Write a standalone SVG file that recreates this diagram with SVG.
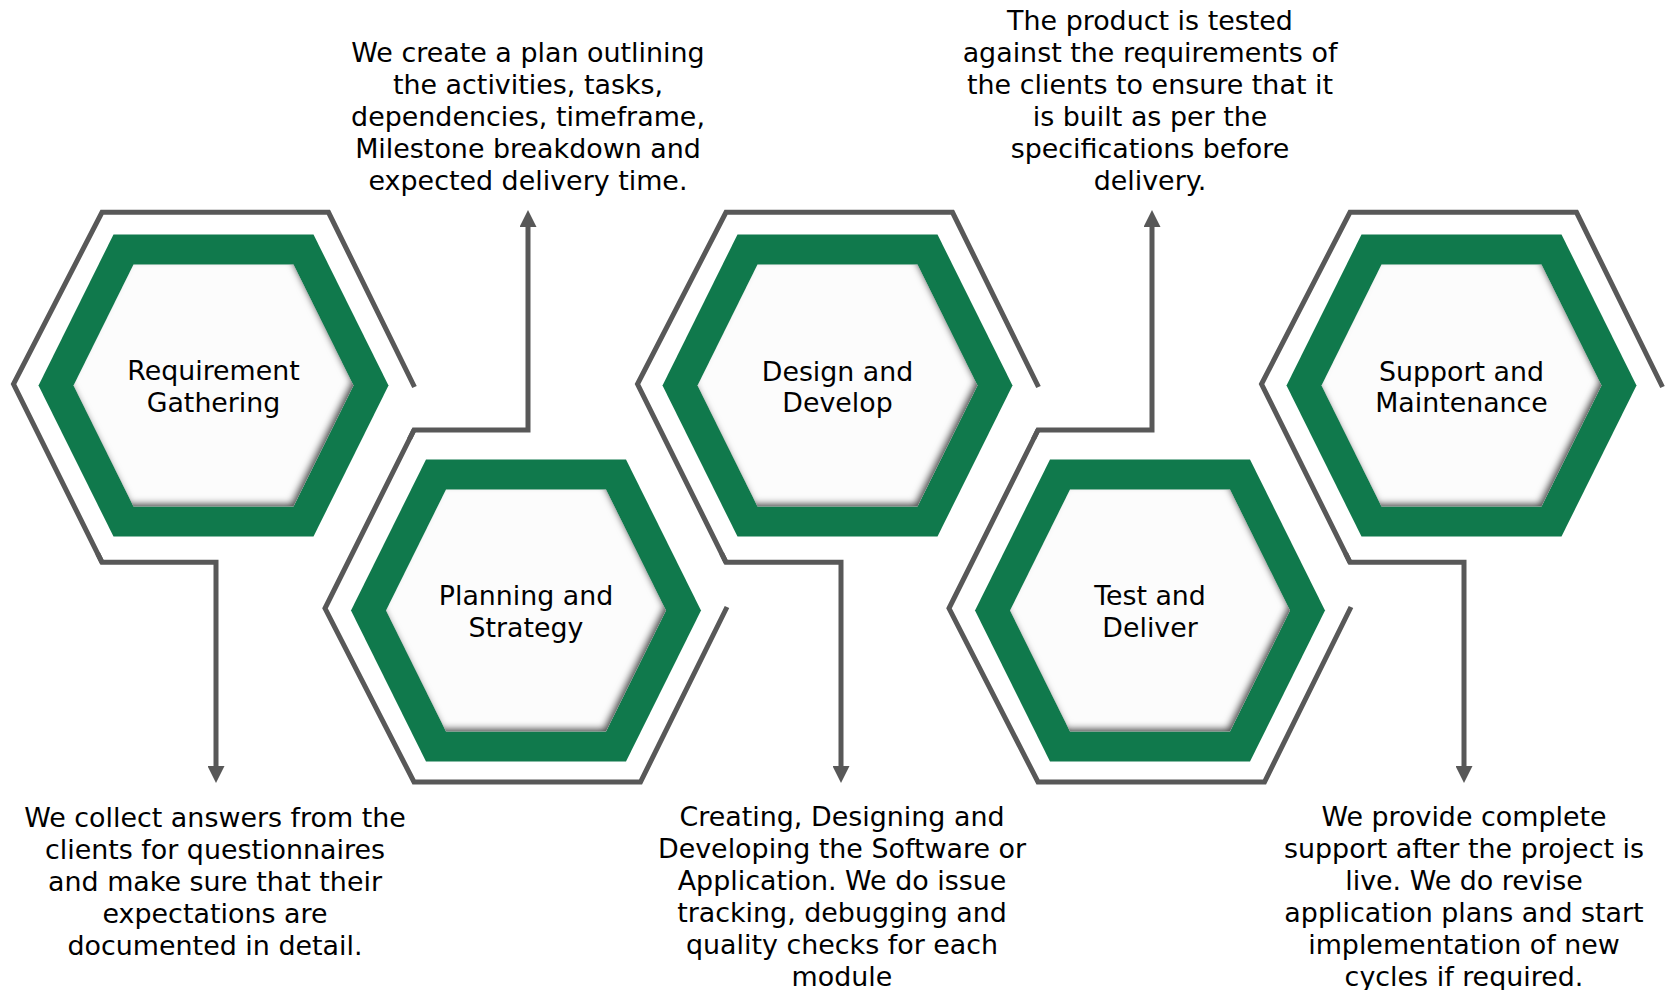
<svg xmlns="http://www.w3.org/2000/svg" xmlns:xlink="http://www.w3.org/1999/xlink" width="1669" height="990" viewBox="0 0 1669 990">
  <style>
    .outline { fill: none; stroke: #585858; stroke-width: 5; stroke-linejoin: miter; }
    .conn { fill: none; stroke: #585858; stroke-width: 5; stroke-linejoin: miter; marker-end: url(#arrow); }
    .green { fill: #10794C; }
    .inner { fill: #FCFCFC; filter: url(#innerShadow); }
    .label { font-family: "DejaVu Sans", Verdana, sans-serif; font-size: 26.8px; fill: #000; text-anchor: middle; }
    .desc { font-family: "DejaVu Sans", Verdana, sans-serif; font-size: 26.9px; fill: #000; text-anchor: middle; }
  </style>
  <defs>
    <marker id="arrow" viewBox="0 0 17 17" refX="2" refY="8.5" markerWidth="17" markerHeight="17" markerUnits="userSpaceOnUse" orient="auto">
      <path d="M0,0 L17,8.5 L0,17 Z" fill="#585858"/>
    </marker>
    <filter id="innerShadow" x="-10%" y="-10%" width="120%" height="120%">
      <feFlood flood-color="#2e2e2e" flood-opacity="0.95" result="flood"/>
      <feComposite in="flood" in2="SourceAlpha" operator="out" result="inv"/>
      <feGaussianBlur in="inv" stdDeviation="3" result="blur"/>
      <feOffset in="blur" dx="-3" dy="-4" result="off"/>
      <feComposite in="off" in2="SourceAlpha" operator="in" result="shadow"/>
      <feMerge>
        <feMergeNode in="SourceGraphic"/>
        <feMergeNode in="shadow"/>
      </feMerge>
    </filter>
    <polygon id="hexGreen" points="-175,0 -100,-151 100,-151 175,0 100,151 -100,151"/>
    <polygon id="hexInner" points="-140,0 -80,-121 80,-121 140,0 80,121 -80,121"/>
  </defs>

  <rect width="1669" height="990" fill="#ffffff"/>

  <g id="node-requirement">
    <path class="outline" d="M414.5,387 L328.5,212.3 L102,212.3 L13.5,384 L102,562.3"/>
    <use xlink:href="#hexGreen" class="green" transform="translate(213.5,385.5)"/>
    <use xlink:href="#hexInner" class="inner" transform="translate(213.5,385.5)"/>
    <text class="label" x="213.5" y="380">Requirement</text>
    <text class="label" x="213.5" y="412">Gathering</text>
  </g>

  <g id="node-planning">
    <path class="outline" d="M727,607 L640.5,782 L414,782 L325,608.3 L414,430"/>
    <use xlink:href="#hexGreen" class="green" transform="translate(526,610.5)"/>
    <use xlink:href="#hexInner" class="inner" transform="translate(526,610.5)"/>
    <text class="label" x="526" y="604.5">Planning and</text>
    <text class="label" x="526" y="636.5">Strategy</text>
  </g>

  <g id="node-design">
    <path class="outline" d="M1038.5,387 L952.5,212.3 L726,212.3 L637.5,384 L726,562.3"/>
    <use xlink:href="#hexGreen" class="green" transform="translate(837.5,385.5)"/>
    <use xlink:href="#hexInner" class="inner" transform="translate(837.5,385.5)"/>
    <text class="label" x="837.5" y="380.5">Design and</text>
    <text class="label" x="837.5" y="412">Develop</text>
  </g>

  <g id="node-test">
    <path class="outline" d="M1351,607 L1264.5,782 L1038,782 L949,608.3 L1038,430"/>
    <use xlink:href="#hexGreen" class="green" transform="translate(1150,610.5)"/>
    <use xlink:href="#hexInner" class="inner" transform="translate(1150,610.5)"/>
    <text class="label" x="1150" y="604.5">Test and</text>
    <text class="label" x="1150" y="636.5">Deliver</text>
  </g>

  <g id="node-support">
    <path class="outline" d="M1662.5,387 L1576.5,212.3 L1350,212.3 L1261.5,384 L1350,562.3"/>
    <use xlink:href="#hexGreen" class="green" transform="translate(1461.5,385.5)"/>
    <use xlink:href="#hexInner" class="inner" transform="translate(1461.5,385.5)"/>
    <text class="label" x="1461.5" y="380.5">Support and</text>
    <text class="label" x="1461.5" y="412">Maintenance</text>
  </g>

  <g id="connectors">
    <path class="conn" d="M97.6,553.3 L102,562.3 L216,562.3 L216,768"/>
    <path class="conn" d="M409.5,439 L414,430 L528,430 L528,225"/>
    <path class="conn" d="M721.6,553.3 L726,562.3 L841,562.3 L841,768"/>
    <path class="conn" d="M1033.5,439 L1038,430 L1152,430 L1152,225"/>
    <path class="conn" d="M1345.6,553.3 L1350,562.3 L1464,562.3 L1464,768"/>
  </g>

  <g id="desc-requirement">
    <text class="desc" x="215" y="827">We collect answers from the</text>
    <text class="desc" x="215" y="859">clients for questionnaires</text>
    <text class="desc" x="215" y="891">and make sure that their</text>
    <text class="desc" x="215" y="923">expectations are</text>
    <text class="desc" x="215" y="955">documented in detail.</text>
  </g>

  <g id="desc-planning">
    <text class="desc" x="528" y="62">We create a plan outlining</text>
    <text class="desc" x="528" y="94">the activities, tasks,</text>
    <text class="desc" x="528" y="126">dependencies, timeframe,</text>
    <text class="desc" x="528" y="158">Milestone breakdown and</text>
    <text class="desc" x="528" y="190">expected delivery time.</text>
  </g>

  <g id="desc-design">
    <text class="desc" x="842" y="826">Creating, Designing and</text>
    <text class="desc" x="842" y="858">Developing the Software or</text>
    <text class="desc" x="842" y="890">Application. We do issue</text>
    <text class="desc" x="842" y="922">tracking, debugging and</text>
    <text class="desc" x="842" y="954">quality checks for each</text>
    <text class="desc" x="842" y="986">module</text>
  </g>

  <g id="desc-test">
    <text class="desc" x="1150" y="29.5">The product is tested</text>
    <text class="desc" x="1150" y="61.5">against the requirements of</text>
    <text class="desc" x="1150" y="93.5">the clients to ensure that it</text>
    <text class="desc" x="1150" y="125.5">is built as per the</text>
    <text class="desc" x="1150" y="157.5">specifications before</text>
    <text class="desc" x="1150" y="189.5">delivery.</text>
  </g>

  <g id="desc-support">
    <text class="desc" x="1464" y="826">We provide complete</text>
    <text class="desc" x="1464" y="858">support after the project is</text>
    <text class="desc" x="1464" y="890">live. We do revise</text>
    <text class="desc" x="1464" y="922">application plans and start</text>
    <text class="desc" x="1464" y="954">implementation of new</text>
    <text class="desc" x="1464" y="986">cycles if required.</text>
  </g>
</svg>
